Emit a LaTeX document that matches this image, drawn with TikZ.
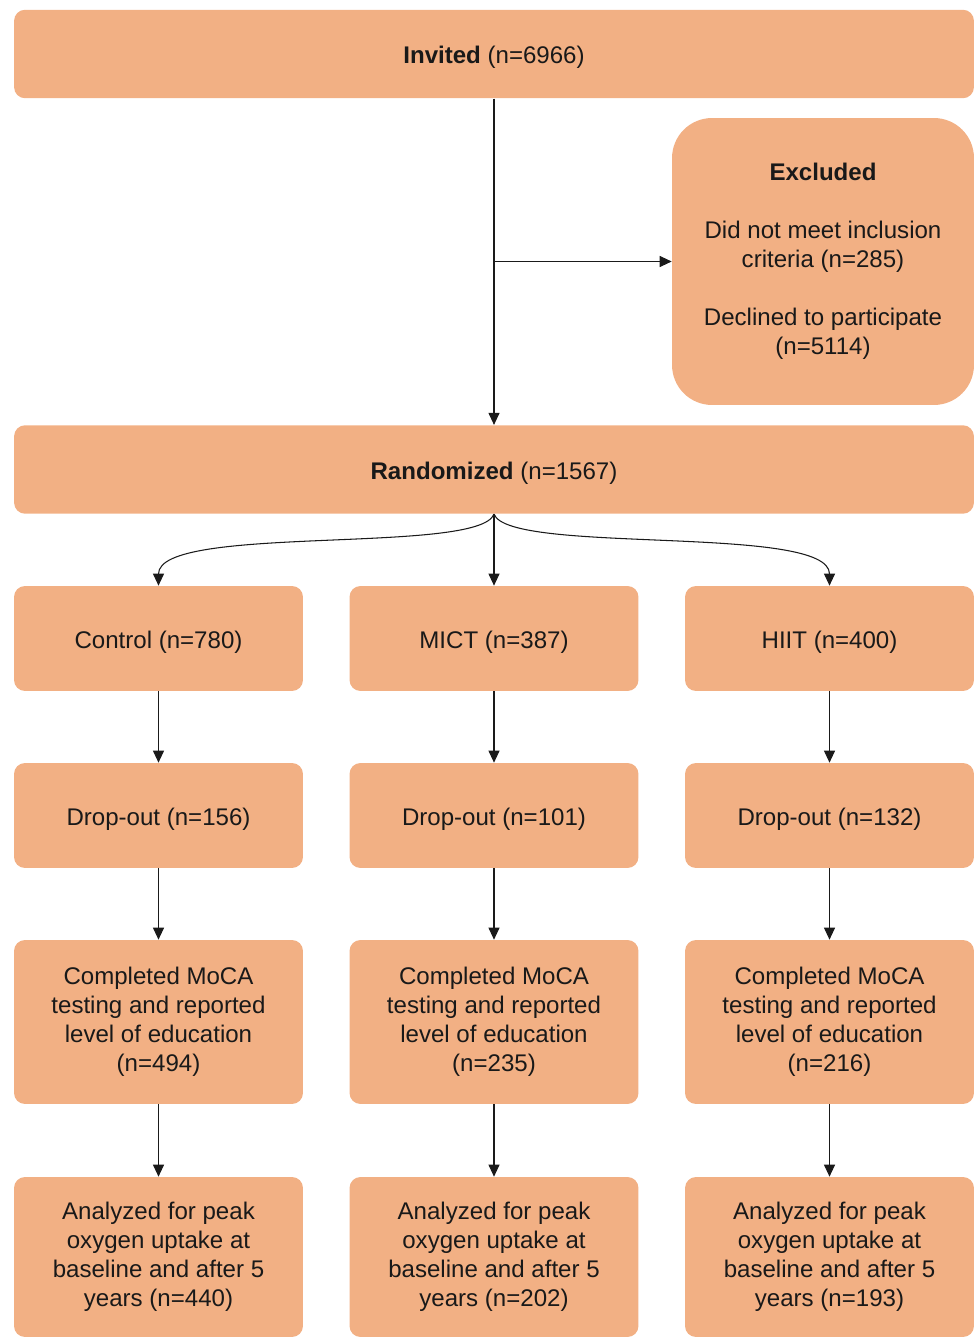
\documentclass[tikz,border=0pt]{standalone}
\usepackage{fontspec}
\setmainfont{Liberation Sans}
\usetikzlibrary{arrows.meta}
\definecolor{boxorange}{HTML}{F2B084}
\definecolor{linegray}{HTML}{1A1A1A}

\begin{document}
\begin{tikzpicture}[x=0.02cm,y=-0.02cm]
\tikzset{font=\fontsize{13.7}{16.5}\selectfont}
\tikzset{flowbox/.style={fill=boxorange, rounded corners=0.22cm, align=center, text=black!90, inner sep=0pt, execute at begin node={\rule{0pt}{13.7pt}}}}
\tikzset{widebox/.style={flowbox, minimum width=19.2cm, minimum height=1.77cm}}
\tikzset{armbox/.style={flowbox, minimum width=5.78cm}}
\tikzset{flow/.style={draw=linegray, line width=0.6pt, -{Triangle[length=0.24cm,width=0.22cm]}}}
\useasboundingbox (0,0) rectangle (974,1337);

\node[widebox] (invited) at (494,54) {\textbf{Invited} (n=6966)};
\node[flowbox, minimum width=6.04cm, minimum height=5.74cm, rounded corners=0.8cm] (excluded) at (823,261.5)
  {\textbf{Excluded}\\[16.5pt] Did not meet inclusion\\ criteria (n=285)\\[16.5pt] Declined to participate\\ (n=5114)};
\node[widebox] (randomized) at (494,469.5) {\textbf{Randomized} (n=1567)};

\node[armbox, minimum height=2.1cm] (control) at (158.5,638.5) {Control (n=780)};
\node[armbox, minimum height=2.1cm] (mict) at (494,638.5) {MICT (n=387)};
\node[armbox, minimum height=2.1cm] (hiit) at (829.5,638.5) {HIIT (n=400)};

\node[armbox, minimum height=2.1cm] (dropctl) at (158.5,815.5) {Drop-out (n=156)};
\node[armbox, minimum height=2.1cm] (dropmict) at (494,815.5) {Drop-out (n=101)};
\node[armbox, minimum height=2.1cm] (drophiit) at (829.5,815.5) {Drop-out (n=132)};

\node[armbox, minimum height=3.28cm] (mocactl) at (158.5,1022) {Completed MoCA\\ testing and reported\\ level of education\\ (n=494)};
\node[armbox, minimum height=3.28cm] (mocamict) at (494,1022) {Completed MoCA\\ testing and reported\\ level of education\\ (n=235)};
\node[armbox, minimum height=3.28cm] (mocahiit) at (829.5,1022) {Completed MoCA\\ testing and reported\\ level of education\\ (n=216)};

\node[armbox, minimum height=3.2cm] (peakctl) at (158.5,1257) {Analyzed for peak\\ oxygen uptake at\\ baseline and after 5\\ years (n=440)};
\node[armbox, minimum height=3.2cm] (peakmict) at (494,1257) {Analyzed for peak\\ oxygen uptake at\\ baseline and after 5\\ years (n=202)};
\node[armbox, minimum height=3.2cm] (peakhiit) at (829.5,1257) {Analyzed for peak\\ oxygen uptake at\\ baseline and after 5\\ years (n=193)};

% invited -> excluded / randomized
\draw[flow] (invited.south) -- (randomized.north);
\coordinate (split) at (invited.south |- excluded.west);
\draw[flow] (split) -- (excluded.west);

% randomization into the three arms
\draw[flow] (randomized.south) .. controls +(-15,41) and +(0,-62) .. (control.north);
\draw[flow] (randomized.south) -- (mict.north);
\draw[flow] (randomized.south) .. controls +(15,41) and +(0,-62) .. (hiit.north);

% follow-up in each arm
\draw[flow] (control.south) -- (dropctl.north);
\draw[flow] (dropctl.south) -- (mocactl.north);
\draw[flow] (mocactl.south) -- (peakctl.north);
\draw[flow] (mict.south) -- (dropmict.north);
\draw[flow] (dropmict.south) -- (mocamict.north);
\draw[flow] (mocamict.south) -- (peakmict.north);
\draw[flow] (hiit.south) -- (drophiit.north);
\draw[flow] (drophiit.south) -- (mocahiit.north);
\draw[flow] (mocahiit.south) -- (peakhiit.north);
\end{tikzpicture}
\end{document}
